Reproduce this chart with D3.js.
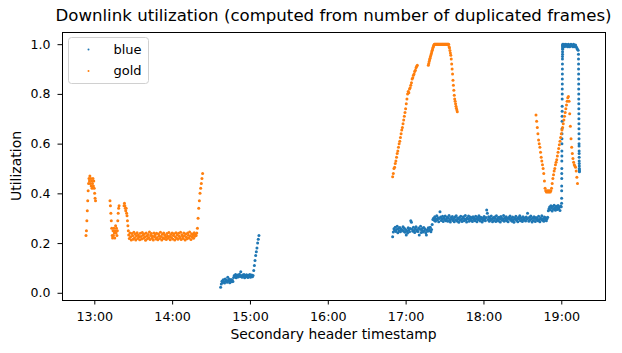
<!DOCTYPE html>
<html>
<head>
<meta charset="utf-8">
<script src="https://cdn.jsdelivr.net/npm/d3@7"></script>
<style>
    body { margin: 0; background: #fff; }
    text { font-family: "DejaVu Sans", sans-serif; fill: #000; }
</style>
</head>
<body>
<div id="chart"></div>
<script>
// each series is stored as runs of samples: start time, cadence (s), values
const blueRunStart = ["14:37:24", "16:50:00", "19:00:15", "19:01:30", "19:13:15"];
const blueRunStep = [30, 30, 1.5, 30, 1.5];
const blueRunValues = [
    // 14:37 - 15:07
    [0.022, 0.035, 0.046, 0.041, 0.052, 0.044, 0.039, 0.055, 0.047, 0.050,
     0.042, 0.063, 0.048, 0.054, 0.040, 0.046, 0.053, 0.044, 0.051, 0.045,
     0.062, 0.070, 0.066, 0.074, 0.061, 0.068, 0.072, 0.064, 0.070, 0.075,
     0.066, 0.085, 0.069, 0.063, 0.072, 0.067, 0.074, 0.061, 0.070, 0.065,
     0.073, 0.068, 0.062, 0.071, 0.066, 0.074, 0.063, 0.069, 0.072, 0.065,
     0.070, 0.090, 0.110, 0.130, 0.150, 0.165, 0.180, 0.200, 0.215, 0.230],
    // 16:50 - 19:00
    [0.225, 0.245, 0.258, 0.251, 0.264, 0.247, 0.255, 0.268, 0.242, 0.259,
     0.250, 0.263, 0.246, 0.257, 0.252, 0.253, 0.266, 0.248, 0.260, 0.244,
     0.255, 0.232, 0.250, 0.241, 0.262, 0.253, 0.246, 0.259, 0.290, 0.284,
     0.256, 0.248, 0.264, 0.251, 0.243, 0.258, 0.266, 0.249, 0.254, 0.247,
     0.261, 0.232, 0.256, 0.268, 0.243, 0.252, 0.260, 0.245, 0.263, 0.250,
     0.257, 0.242, 0.232, 0.253, 0.248, 0.262, 0.259, 0.251, 0.264, 0.246,
     0.255, 0.275, 0.295,
     0.300, 0.292, 0.306, 0.288, 0.297, 0.310, 0.294, 0.302, 0.286, 0.299,
     0.326, 0.305, 0.291, 0.298, 0.308, 0.287, 0.301, 0.295, 0.309, 0.290,
     0.297, 0.304, 0.288, 0.300, 0.311, 0.293, 0.285, 0.303, 0.296, 0.307,
     0.291, 0.299, 0.286, 0.305, 0.294, 0.310, 0.289, 0.301, 0.297, 0.284,
     0.303, 0.292, 0.308, 0.296, 0.287, 0.300, 0.306, 0.290, 0.298, 0.311,
     0.294, 0.285, 0.302, 0.297, 0.309, 0.288, 0.299, 0.305, 0.292, 0.301,
     0.287, 0.306, 0.295, 0.300, 0.290, 0.308, 0.297, 0.286, 0.303, 0.294,
     0.310, 0.299, 0.289, 0.304, 0.296, 0.285, 0.301, 0.292, 0.307, 0.298,
     0.290, 0.303, 0.333, 0.320, 0.295, 0.306, 0.288, 0.300, 0.293, 0.309,
     0.297, 0.286, 0.302, 0.291, 0.305, 0.299, 0.287, 0.310, 0.294, 0.301,
     0.289, 0.304, 0.296, 0.285, 0.307, 0.300, 0.292, 0.298, 0.311, 0.288,
     0.302, 0.295, 0.306, 0.290, 0.299, 0.286, 0.303, 0.297, 0.309, 0.293,
     0.300, 0.288, 0.305, 0.294, 0.284, 0.301, 0.296, 0.308, 0.291, 0.299,
     0.286, 0.303, 0.297, 0.310, 0.290, 0.302, 0.295, 0.287, 0.306, 0.298,
     0.292, 0.301, 0.289, 0.305, 0.296, 0.320, 0.300, 0.288, 0.304, 0.293,
     0.309, 0.297, 0.285, 0.302, 0.291, 0.306, 0.299, 0.287, 0.303, 0.295,
     0.300, 0.290, 0.308, 0.294, 0.286, 0.301, 0.297, 0.310, 0.292, 0.299,
     0.288, 0.305, 0.296, 0.302, 0.290, 0.298, 0.304,
     0.330, 0.338, 0.345, 0.334, 0.350, 0.341, 0.329, 0.347, 0.336, 0.352,
     0.340, 0.332, 0.348, 0.343, 0.335, 0.351, 0.338, 0.344, 0.331, 0.349, 0.346],
    // jump to full load just after 19:00
    [0.36, 0.38, 0.41, 0.43, 0.46, 0.48, 0.50, 0.53, 0.55, 0.57,
     0.60, 0.62, 0.64, 0.66, 0.69, 0.71, 0.73, 0.75, 0.78, 0.80,
     0.82, 0.84, 0.86, 0.88, 0.90, 0.92, 0.94, 0.95, 0.96, 0.97,
     0.98, 0.985, 0.99, 0.995, 1.0, 0.995],
    // plateau
    [0.995, 1.0, 0.99, 0.997, 1.0, 0.992, 0.998, 0.99, 1.0, 0.995,
     0.99, 0.998, 1.0, 0.993, 0.997, 0.99, 1.0, 0.995, 0.99, 0.997,
     0.99, 0.985, 0.98, 0.976],
    // drop at the end
    [0.96, 0.94, 0.92, 0.90, 0.88, 0.86, 0.84, 0.82, 0.80, 0.78,
     0.76, 0.74, 0.72, 0.70, 0.68, 0.66, 0.64, 0.62, 0.60, 0.59,
     0.57, 0.56, 0.545, 0.53, 0.52, 0.51, 0.50, 0.495, 0.49, 0.487]
];

const goldRunStart = ["12:53:36", "13:12:06", "13:22:54", "13:26:30", "16:50:00", "17:17:30", "18:40:30"];
const goldRunStep = [20, 20, 20, 30, 30, 20, 30];
const goldRunValues = [
    [0.23, 0.25, 0.29, 0.33, 0.37, 0.41, 0.44, 0.46, 0.45, 0.47,
     0.44, 0.46, 0.43, 0.45, 0.42, 0.44, 0.46, 0.43, 0.45, 0.42,
     0.40, 0.38, 0.37],
    [0.37, 0.35, 0.32, 0.29, 0.26, 0.23, 0.22, 0.25, 0.23, 0.26,
     0.24, 0.22, 0.25, 0.27, 0.24, 0.26, 0.23, 0.25, 0.29, 0.32,
     0.34, 0.35],
    [0.35, 0.36, 0.35, 0.34, 0.33, 0.34, 0.32, 0.31, 0.29, 0.27, 0.25],
    // long flat stretch, then the climb at 14:20
    [0.232, 0.218, 0.241, 0.225, 0.212, 0.238, 0.229, 0.215, 0.244, 0.221,
     0.235, 0.212, 0.228, 0.242, 0.218, 0.232, 0.225, 0.213, 0.239, 0.226,
     0.216, 0.243, 0.231, 0.219, 0.236, 0.224, 0.211, 0.240, 0.228, 0.217,
     0.234, 0.222, 0.245, 0.214, 0.230, 0.238, 0.219, 0.227, 0.212, 0.241,
     0.225, 0.233, 0.216, 0.239, 0.222, 0.213, 0.236, 0.229, 0.218, 0.244,
     0.226, 0.212, 0.235, 0.221, 0.240, 0.217, 0.231, 0.224, 0.214, 0.238,
     0.228, 0.219, 0.243, 0.226, 0.213, 0.234, 0.222, 0.240, 0.216, 0.230,
     0.237, 0.212, 0.225, 0.242, 0.219, 0.232, 0.215, 0.239, 0.227, 0.221,
     0.244, 0.214, 0.233, 0.226, 0.218, 0.241, 0.229, 0.212, 0.236, 0.223,
     0.217, 0.240, 0.231, 0.220, 0.245, 0.228, 0.214, 0.237, 0.225, 0.233,
     0.219, 0.242, 0.227, 0.235, 0.230,
     0.24, 0.26, 0.30, 0.34, 0.37, 0.40, 0.42, 0.44, 0.46, 0.48],
    [0.467, 0.48, 0.50, 0.505, 0.52, 0.53, 0.545, 0.56, 0.57, 0.585,
     0.60, 0.61, 0.625, 0.64, 0.655, 0.665, 0.68, 0.695, 0.71, 0.725,
     0.74, 0.76, 0.78, 0.80, 0.81, 0.805, 0.82, 0.825, 0.835, 0.845,
     0.86, 0.865, 0.875, 0.88, 0.89, 0.895, 0.905, 0.91, 0.915],
    [0.915, 0.922, 0.93, 0.937, 0.943, 0.95, 0.956, 0.963, 0.97, 0.976,
     0.982, 0.988, 0.993, 0.997, 1.0, 1.0, 1.0, 1.0, 1.0, 1.0,
     1.0, 1.0, 1.0, 1.0, 1.0, 1.0, 1.0, 1.0, 1.0, 1.0,
     1.0, 1.0, 1.0, 1.0, 1.0, 1.0, 1.0, 1.0, 1.0, 1.0,
     1.0, 1.0, 1.0, 1.0, 1.0, 1.0, 1.0, 1.0,
     0.99, 0.985, 0.975, 0.965, 0.955, 0.94, 0.92, 0.90, 0.88, 0.855,
     0.835, 0.815, 0.795, 0.78, 0.77, 0.76, 0.75, 0.742, 0.735, 0.728],
    [0.715, 0.69, 0.665, 0.64, 0.615, 0.60, 0.585, 0.565, 0.545, 0.53,
     0.515, 0.50, 0.48, 0.45, 0.42,
     0.41, 0.405, 0.41, 0.405, 0.41, 0.405, 0.41, 0.405, 0.41, 0.42,
     0.44, 0.46, 0.475, 0.49, 0.50, 0.515, 0.525, 0.535, 0.55, 0.565,
     0.58, 0.595, 0.61, 0.625, 0.64, 0.655, 0.665, 0.68, 0.695, 0.71,
     0.725, 0.74, 0.755, 0.77, 0.785, 0.79,
     0.77, 0.72, 0.67, 0.62, 0.585, 0.56, 0.54, 0.525, 0.515, 0.51,
     0.505, 0.49, 0.465, 0.44]
];

const xDomain = ["12:35:06", "19:33:42"];
const yDomain = [-0.029, 1.049];
const yTicks = [0, 0.2, 0.4, 0.6, 0.8, 1.0];
const seriesNames = ["blue", "gold"];
const seriesColors = ["#1f77b4", "#ff7f0e"];

function init() {
    const W = 622, H = 353;
    const margin = { top: 32, right: 17, bottom: 53, left: 62 },
        w = W - margin.left - margin.right,
        h = H - margin.top - margin.bottom;

    const parseTime = d3.timeParse("%H:%M:%S");

    // expand runs into timestamped samples
    function samples(starts, steps, runs) {
        const pts = [];
        runs.forEach((vals, i) => {
            const t0 = parseTime(starts[i]).getTime();
            vals.forEach((v, j) => pts.push({ t: new Date(t0 + j * steps[i] * 1000), v: v }));
        });
        return pts;
    }
    const series = [
        samples(blueRunStart, blueRunStep, blueRunValues),
        samples(goldRunStart, goldRunStep, goldRunValues)
    ];

    const svg = d3.select("#chart")
        .append("svg")
        .attr("width", W)
        .attr("height", H);

    const g = svg.append("g")
        .attr("transform", `translate(${margin.left},${margin.top})`);

    const xScale = d3.scaleTime()
        .domain(xDomain.map(parseTime))
        .range([0, w]);

    const yScale = d3.scaleLinear()
        .domain(yDomain)
        .range([h, 0]);

    // points
    series.forEach((pts, i) => {
        g.append("g")
            .selectAll("circle")
            .data(pts)
            .enter()
            .append("circle")
            .attr("cx", d => xScale(d.t))
            .attr("cy", d => yScale(d.v))
            .attr("r", 1.5)
            .attr("fill", seriesColors[i]);
    });

    // x axis
    g.append("g")
        .attr("transform", `translate(0, ${h})`)
        .call(d3.axisBottom(xScale)
            .ticks(d3.timeHour.every(1))
            .tickFormat(d3.timeFormat("%H:%M"))
            .tickSize(4.5)
            .tickSizeOuter(0)
            .tickPadding(7.5))
        .call(a => a.select(".domain").remove())
        .selectAll("text")
        .style("font-family", "DejaVu Sans, sans-serif")
        .style("font-size", "12.7px");

    // y axis
    g.append("g")
        .call(d3.axisLeft(yScale)
            .tickValues(yTicks)
            .tickFormat(d3.format(".1f"))
            .tickSize(4.5)
            .tickSizeOuter(0)
            .tickPadding(7))
        .call(a => a.select(".domain").remove())
        .selectAll("text")
        .style("font-family", "DejaVu Sans, sans-serif")
        .style("font-size", "12.5px");

    // frame
    g.append("rect")
        .attr("width", w)
        .attr("height", h)
        .attr("fill", "none")
        .attr("stroke", "#000")
        .attr("stroke-width", 1)
        .attr("shape-rendering", "crispEdges");

    // title and labels
    svg.append("text")
        .attr("x", margin.left + w / 2)
        .attr("y", 21)
        .attr("text-anchor", "middle")
        .attr("textLength", 556)
        .attr("lengthAdjust", "spacingAndGlyphs")
        .style("font-size", "15px")
        .text("Downlink utilization (computed from number of duplicated frames)");

    svg.append("text")
        .attr("x", margin.left + w / 2)
        .attr("y", 339)
        .attr("text-anchor", "middle")
        .attr("textLength", 206)
        .attr("lengthAdjust", "spacingAndGlyphs")
        .style("font-size", "13.5px")
        .text("Secondary header timestamp");

    svg.append("text")
        .attr("transform", `translate(21, ${margin.top + h / 2}) rotate(-90)`)
        .attr("text-anchor", "middle")
        .style("font-size", "14px")
        .text("Utilization");

    // legend
    const legend = svg.append("g")
        .attr("transform", "translate(68.5, 37.5)");

    legend.append("rect")
        .attr("width", 80)
        .attr("height", 46)
        .attr("rx", 3)
        .attr("fill", "#fff")
        .attr("fill-opacity", 0.8)
        .attr("stroke", "#d0d0d0")
        .attr("stroke-width", 1);

    seriesNames.forEach((name, i) => {
        const yy = 12 + i * 21.4;
        legend.append("circle")
            .attr("cx", 20)
            .attr("cy", yy)
            .attr("r", 1)
            .attr("fill", seriesColors[i]);
        legend.append("text")
            .attr("x", 45)
            .attr("y", yy + 4.5)
            .style("font-size", "13px")
            .text(name);
    });
}

window.onload = init;
</script>
</body>
</html>
